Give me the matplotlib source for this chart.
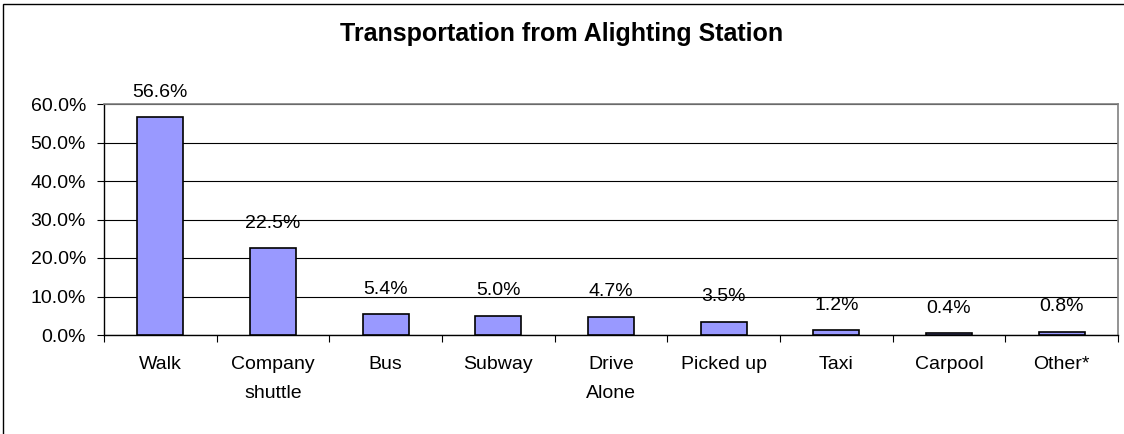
# %%
import matplotlib.pyplot as plt
from matplotlib.patches import Rectangle
from matplotlib.ticker import FixedLocator, PercentFormatter

plt.rcParams["font.family"] = ["Liberation Sans", "DejaVu Sans"]

# %% Data
categories = [
    "Walk",
    "Company\nshuttle",
    "Bus",
    "Subway",
    "Drive\nAlone",
    "Picked up",
    "Taxi",
    "Carpool",
    "Other*",
]
shares = [56.6, 22.5, 5.4, 5.0, 4.7, 3.5, 1.2, 0.4, 0.8]

# %% Plot
fig = plt.figure(figsize=(11.24, 4.34), dpi=100)
ax = fig.add_axes([104 / 1124, 99 / 434, 1014 / 1124, 231 / 434])

x = list(range(len(categories)))
bars = ax.bar(x, shares, width=0.41, color="#9999FF", edgecolor="black",
              linewidth=1.2, zorder=3)

for xi, val in zip(x, shares):
    ax.annotate(f"{val:.1f}%", (xi, val), xytext=(0, 18),
                textcoords="offset points", ha="center", va="center",
                fontsize=14)

ax.set_xlim(-0.5, len(categories) - 0.5)
ax.set_ylim(0, 60)
ax.set_yticks([0, 10, 20, 30, 40, 50, 60])
ax.yaxis.set_major_formatter(PercentFormatter(decimals=1))
ax.yaxis.grid(True, color="black", linewidth=0.8, zorder=0)

ax.set_xticks(x)
ax.set_xticklabels(categories, fontsize=14, linespacing=1.95, va="top")
ax.tick_params(axis="x", which="major", length=0, pad=15)
ax.xaxis.set_minor_locator(FixedLocator([i + 0.5 for i in range(-1, len(categories))]))
ax.tick_params(axis="x", which="minor", length=5, width=0.8, color="black", direction="out")
ax.tick_params(axis="y", length=5, width=0.8, labelsize=14, pad=8)

for side in ["top", "right"]:
    ax.spines[side].set_color("#808080")
    ax.spines[side].set_linewidth(1.2)
for side in ["left", "bottom"]:
    ax.spines[side].set_color("black")
    ax.spines[side].set_linewidth(1.0)

fig.text(0.5, 1 - 34 / 434, "Transportation from Alighting Station",
         ha="center", va="center", fontsize=18, fontweight="bold")

fig.patches.append(Rectangle((3 / 1124, -0.1), 1.2, 1.1 - 4 / 434,
                             transform=fig.transFigure, fill=False,
                             edgecolor="black", linewidth=1.0, clip_on=False))

fig.savefig("out.png", dpi=100)
